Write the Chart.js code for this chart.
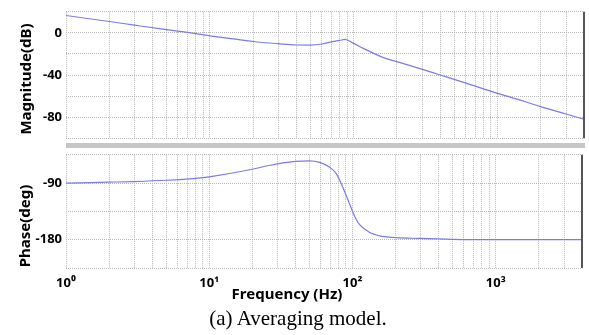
<!DOCTYPE html>
<html lang="en">
<head>
    <meta charset="UTF-8">
    <title>Bode plot - Averaging model</title>
    <style>
        body { margin: 0; background: #fff; }
        .wrap { position: relative; width: 589px; height: 335px; overflow: hidden; }
        canvas { position: absolute; left: 0; }
        .sep { position: absolute; left: 66px; width: 519px; top: 143px; height: 5px; background: #c6c6c6; }
        .ytitle { position: absolute; font: bold 15px "Noto Sans", sans-serif; color: #000;
                  transform: translate(-50%, -50%) rotate(-90deg); white-space: nowrap; }
        .xtitle { position: absolute; left: 287px; top: 293px; transform: translate(-50%, -50%);
                  font: bold 15px "Noto Sans", sans-serif; white-space: nowrap; }
        .caption { position: absolute; left: 298px; top: 318px; transform: translate(-50%, -50%);
                   font: 21px "Liberation Serif", "Times New Roman", serif; white-space: nowrap; }
    </style>
</head>
<body>
<div class="wrap">
    <canvas id="chartMag" width="589" height="150" style="top:0"></canvas>
    <canvas id="chartPhase" width="589" height="147" style="top:143px"></canvas>
    <div class="sep"></div>
    <div class="ytitle" style="left:25px; top:79px">Magnitude(dB)</div>
    <div class="ytitle" style="left:24px; top:226px">Phase(deg)</div>
    <div class="xtitle">Frequency (Hz)</div>
    <div class="caption">(a) Averaging model.</div>
</div>

<script src="https://cdn.jsdelivr.net/npm/chart.js"></script>
<script>
    // datos
    const magFreq = [1, 2, 3, 5, 7, 10, 15, 20, 30, 40, 50, 60, 69, 80, 87, 100, 117, 161, 200, 290, 400, 582, 1000, 1230, 2000, 3000, 4000];
    const magDb   = [16.5, 10.8, 7.3, 3.0, 0.4, -2.8, -6.0, -8.2, -10.3, -11.5, -11.6, -10.6, -8.8, -7.2, -6.2, -10.0, -14.7, -23.5, -27.3, -34, -40, -47, -57.5, -61, -70, -77, -82];

    const phaseFreq = [1, 2, 3, 5, 8, 10, 20, 26, 40, 50, 59, 69, 77, 85, 95, 103, 111, 130, 161, 200, 290, 500, 1000, 4000];
    const phaseDeg  = [-90, -88.5, -87.5, -85.5, -82.5, -80, -68, -62, -55.6, -54.6, -57, -64.5, -75, -95, -122, -141.6, -155, -167.7, -174.7, -176.6, -178, -179.5, -180, -180];

    const decades = [1, 10, 100, 1000];
    const decadeLabels = ['10\u2070', '10\u00b9', '10\u00b2', '10\u00b3'];
    const magTicks = [0, -40, -80];
    const phaseTicks = [-90, -180];

    const fMax = 4000;
    const gridFreqs = [];
    decades.forEach(d => {
        for (let k = 1; k <= 9; k++) {
            if (d * k <= fMax) gridFreqs.push(d * k);
        }
    });

    const lineColor = '#7b7be3';
    const gridColor = '#b8b8b8';
    const tickFont = { family: 'Noto Sans', size: 13, weight: 'bold' };

    const frame = {
        id: 'frame',
        afterDraw(chart) {
            const a = chart.chartArea;
            const c = chart.ctx;
            c.save();
            c.strokeStyle = '#555';
            c.lineWidth = 2;
            c.beginPath();
            c.moveTo(a.right, a.top);
            c.lineTo(a.right, a.bottom);
            c.stroke();
            c.restore();
        }
    };

    function xScale(showLabels, height) {
        return {
            type: 'logarithmic',
            min: 1,
            max: fMax,
            afterBuildTicks: s => { s.ticks = gridFreqs.map(v => ({ value: v })); },
            afterFit: s => { s.height = height; },
            grid: { color: gridColor, drawTicks: false },
            border: { display: false, dash: [1, 1] },
            ticks: {
                display: showLabels,
                autoSkip: false,
                maxRotation: 0,
                padding: 7,
                color: '#000',
                font: tickFont,
                callback: v => {
                    const i = decades.indexOf(v);
                    return i >= 0 ? decadeLabels[i] : '';
                }
            }
        };
    }

    function yScale(min, max, step, labels) {
        return {
            min: min,
            max: max,
            afterFit: s => { s.width = 66; },
            grid: { color: gridColor, drawTicks: false },
            border: { display: false, dash: [1, 1] },
            ticks: {
                stepSize: step,
                padding: 4,
                color: '#000',
                font: tickFont,
                callback: v => labels.includes(v) ? String(v) : ''
            }
        };
    }

    function makeChart(id, freqs, vals, x, y, pad) {
        return new Chart(document.getElementById(id).getContext('2d'), {
            type: 'line',
            data: {
                datasets: [{
                    data: freqs.map((f, i) => ({ x: f, y: vals[i] })),
                    borderColor: lineColor,
                    borderWidth: 1.2,
                    pointRadius: 0,
                    cubicInterpolationMode: 'monotone',
                    fill: false
                }]
            },
            options: {
                responsive: false,
                animation: false,
                devicePixelRatio: 1,
                layout: { padding: pad },
                plugins: { legend: { display: false }, tooltip: { enabled: false } },
                scales: { x: x, y: y }
            },
            plugins: [frame]
        });
    }

    makeChart('chartMag', magFreq, magDb,
        xScale(false, 7), yScale(-100, 20, 20, magTicks),
        { top: 5, right: 5, left: 0, bottom: 0 });

    makeChart('chartPhase', phaseFreq, phaseDeg,
        xScale(true, 22), yScale(-225, -45, 45, phaseTicks),
        { top: 5, right: 5, left: 0, bottom: 0 });
</script>
</body>
</html>
